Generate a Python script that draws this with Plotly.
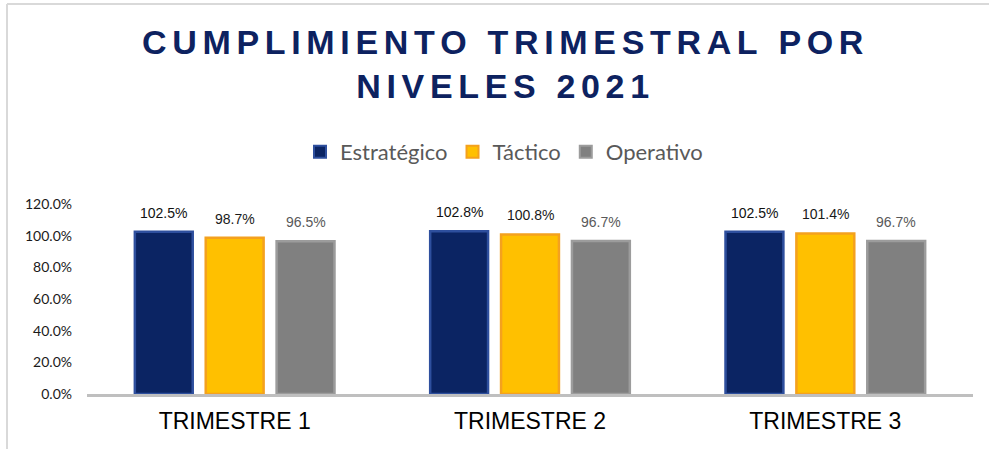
import numpy as np
import plotly.graph_objects as go

# ---- data ----
categories = ["TRIMESTRE 1", "TRIMESTRE 2", "TRIMESTRE 3"]
series_names = ["Estratégico", "Táctico", "Operativo"]
estrategico = [1.025, 1.028, 1.025]
tactico = [0.987, 1.008, 1.014]
operativo = [0.965, 0.967, 0.967]
y_ticks = [0, 0.2, 0.4, 0.6, 0.8, 1.0, 1.2]
title_lines = ["CUMPLIMIENTO TRIMESTRAL POR", "NIVELES 2021"]

# ---- styling ----
W, H = 989, 449
L, R, T, B = 87, 16, 204, 55
pw, ph = W - L - R, H - T - B

fills = ["#0B2463", "#FFC000", "#808080"]
edges = ["#2E4F9E", "#F4A11E", "#9C9C9C"]
label_colors = ["#111111", "#1A1A1A", "#595959"]
slot = 0.24
bar_w = 0.196

values = [estrategico, tactico, operativo]
xs = np.arange(len(categories))

fig = go.Figure()
annotations = []
for k, (name, vals) in enumerate(zip(series_names, values)):
    xpos = xs + (k - 1) * slot
    fig.add_trace(go.Bar(
        x=xpos, y=vals, width=bar_w, name=name,
        marker=dict(color=fills[k], line=dict(color=edges[k], width=2.5)),
        hoverinfo="y",
    ))
    for xp, v in zip(xpos, vals):
        annotations.append(dict(
            x=xp, y=v, xref="x", yref="y", text=f"{v*100:.1f}%",
            showarrow=False, yshift=19, yanchor="middle",
            font=dict(family="Liberation Sans, Arial, sans-serif", size=14, color=label_colors[k]),
        ))

sp = "\u2006"
def spaced(s):
    return sp.join(list(s))

title_text = "<br>".join(spaced(t) for t in title_lines)
annotations.append(dict(
    x=(502 - L) / pw, y=(H - B - 64) / ph, xref="paper", yref="paper", text=title_text,
    showarrow=False, xanchor="center", yanchor="middle",
    font=dict(family="Liberation Sans, Arial, sans-serif", size=34, color="#0D2260", weight="bold"),
))

frame_color = "#D9D9D9"
shapes = [
    dict(type="line", xref="paper", yref="paper",
         x0=(7 - L) / pw, x1=(W + 5 - L) / pw,
         y0=(H - B - 4) / ph, y1=(H - B - 4) / ph,
         line=dict(color=frame_color, width=2)),
    dict(type="line", xref="paper", yref="paper",
         x0=(7 - L) / pw, x1=(7 - L) / pw,
         y0=(H - B - 4) / ph, y1=(H - B - H - 5) / ph,
         line=dict(color=frame_color, width=2)),
]

fig.update_layout(
    width=W, height=H,
    margin=dict(l=L, r=R, t=T, b=B, pad=0),
    paper_bgcolor="white", plot_bgcolor="white",
    barmode="overlay",
    showlegend=True,
    legend=dict(orientation="h", xref="container", yref="container",
                x=504 / W, xanchor="center", y=1 - 152 / H, yanchor="middle",
                font=dict(family="Lato, Calibri, sans-serif", size=22, color="#595959"),
                itemsizing="constant", bgcolor="rgba(0,0,0,0)"),
    xaxis=dict(range=[-0.5, 2.5], tickvals=list(xs), ticktext=categories,
               showgrid=False, zeroline=False, showline=True,
               linecolor="#BFBFBF", linewidth=3, ticks="",
               ticklabelstandoff=4,
               tickfont=dict(family="Liberation Sans, Arial, sans-serif", size=23, color="#000000")),
    yaxis=dict(range=[0, 1.2], tickvals=y_ticks, tickformat=".1%",
               showgrid=False, zeroline=False, showline=False, ticks="",
               ticklabelstandoff=14,
               tickfont=dict(family="Lato, Calibri, sans-serif", size=14, color="#1A1A1A")),
    annotations=annotations,
    shapes=shapes,
)

fig.write_html("out.html", config={"displayModeBar": False},
               post_script="document.body.style.margin='0';document.body.style.overflow='hidden';")
